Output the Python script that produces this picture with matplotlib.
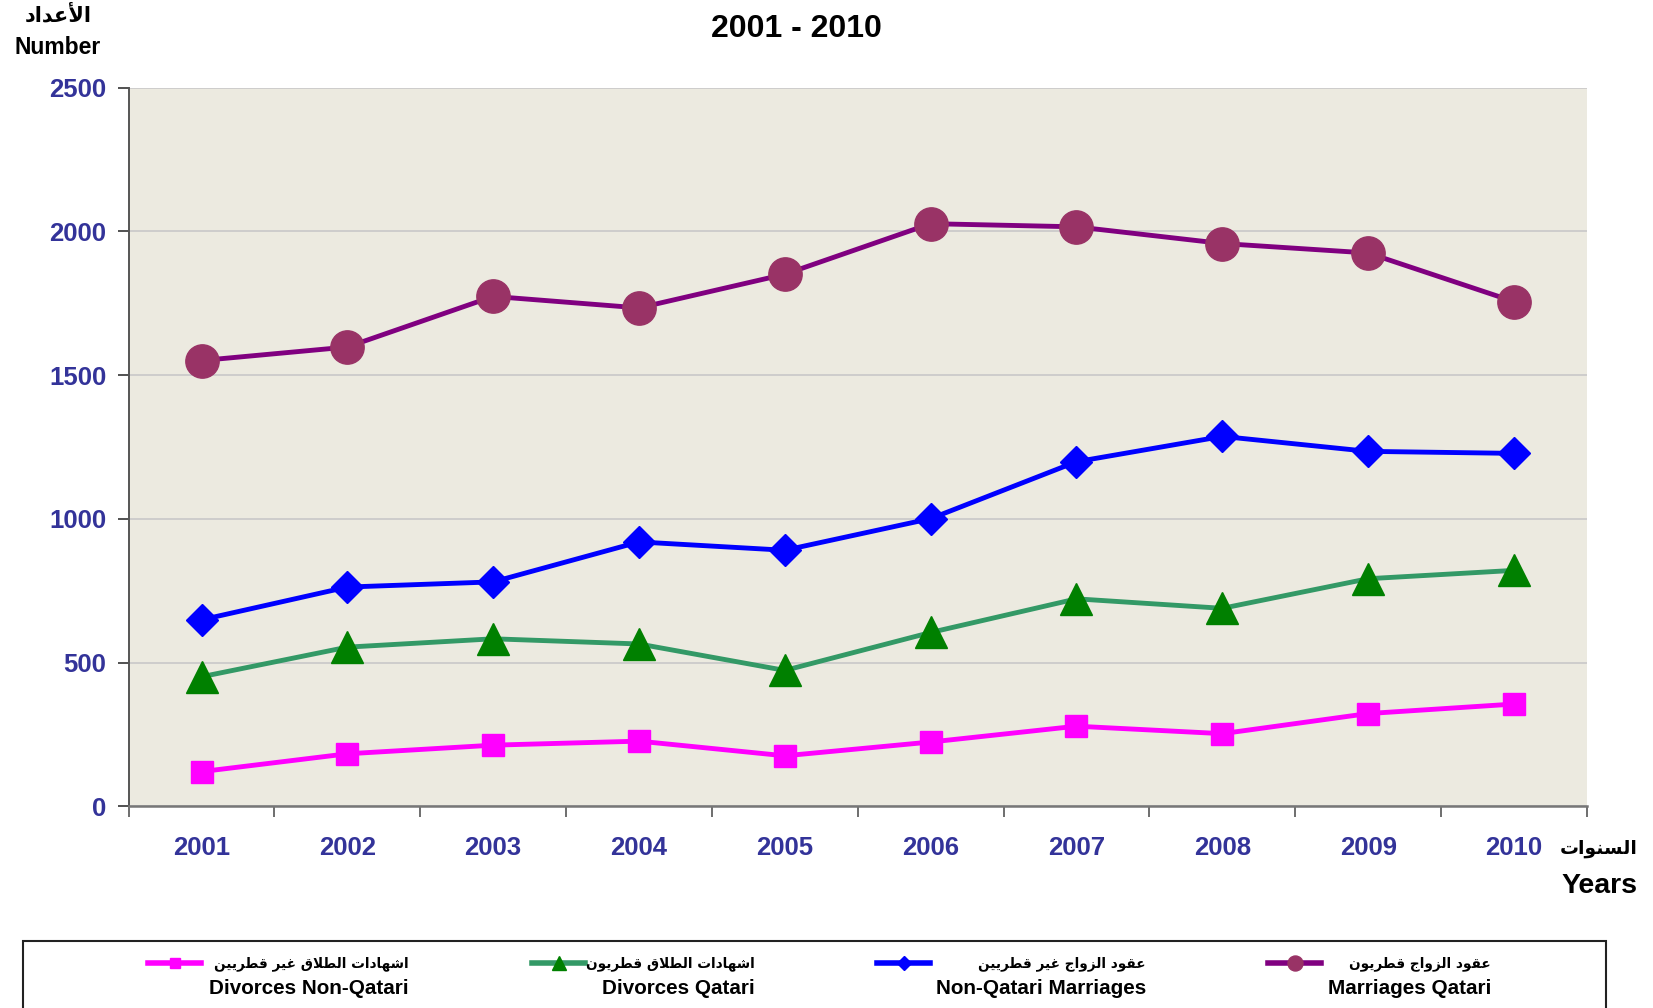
import numpy as np
import matplotlib
matplotlib.use('Agg')
import matplotlib.pyplot as plt
from matplotlib.lines import Line2D
from matplotlib.patches import Rectangle

years = ['2001', '2002', '2003', '2004', '2005', '2006', '2007', '2008', '2009', '2010']
marriages_qatari = [1551, 1598, 1774, 1734, 1851, 2027, 2016, 1958, 1925, 1756]
marriages_non_qatari = [649, 763, 781, 920, 891, 1001, 1199, 1287, 1235, 1228]
divorces_qatari = [451, 554, 583, 565, 473, 605, 722, 689, 792, 821]
divorces_non_qatari = [121, 183, 213, 227, 176, 224, 279, 253, 323, 356]

labels_en = ['Divorces Non-Qatari', 'Divorces Qatari', 'Non-Qatari Marriages', 'Marriages Qatari']
labels_ar = ['اشهادات الطلاق غير قطريين', 'اشهادات الطلاق قطريون',
             'عقود الزواج غير قطريين', 'عقود الزواج قطريون']

# arabic presentation forms: isolated, final, initial, medial (right-joining letters have 2)
FORMS = {
    'ا': '\uFE8D\uFE8E', 'أ': '\uFE83\uFE84', 'د': '\uFEA9\uFEAA', 'ر': '\uFEAD\uFEAE',
    'ز': '\uFEAF\uFEB0', 'و': '\uFEED\uFEEE',
    'ت': '\uFE95\uFE96\uFE97\uFE98', 'ج': '\uFE9D\uFE9E\uFE9F\uFEA0',
    'س': '\uFEB1\uFEB2\uFEB3\uFEB4', 'ش': '\uFEB5\uFEB6\uFEB7\uFEB8',
    'ط': '\uFEC1\uFEC2\uFEC3\uFEC4', 'ع': '\uFEC9\uFECA\uFECB\uFECC',
    'غ': '\uFECD\uFECE\uFECF\uFED0', 'ق': '\uFED5\uFED6\uFED7\uFED8',
    'ل': '\uFEDD\uFEDE\uFEDF\uFEE0', 'ن': '\uFEE5\uFEE6\uFEE7\uFEE8',
    'ه': '\uFEE9\uFEEA\uFEEB\uFEEC', 'ي': '\uFEF1\uFEF2\uFEF3\uFEF4',
    '\uFEFB': '\uFEFB\uFEFC', '\uFEF7': '\uFEF7\uFEF8',
}


def shape(text):
    text = text.replace('لا', '\uFEFB').replace('لأ', '\uFEF7')
    out = []
    for i, c in enumerate(text):
        forms = FORMS.get(c)
        if forms is None:
            out.append(c)
            continue
        prev = text[i - 1] if i > 0 else ''
        nxt = text[i + 1] if i + 1 < len(text) else ''
        jp = prev in FORMS and len(FORMS[prev]) == 4
        jn = len(forms) == 4 and nxt in FORMS
        if jp:
            out.append(forms[3] if jn else forms[1])
        else:
            out.append(forms[2] if jn else forms[0])
    return ''.join(reversed(out))


plt.rcParams['font.family'] = ['Liberation Sans', 'DejaVu Sans']
plt.rcParams['font.weight'] = 'bold'
arabic = ['DejaVu Sans']

fig = plt.figure(figsize=(16.53, 10.08), dpi=100)
ax = fig.add_axes([0.0778, 0.200, 0.8822, 0.713])
ax.set_facecolor('#ECEAE0')

x = np.arange(len(years))
series = [
    (divorces_non_qatari, '#FF00FF', '#FF00FF', 's', 16.5),
    (divorces_qatari, '#339966', '#008000', '^', 23.5),
    (marriages_non_qatari, '#0000FF', '#0000FF', 'D', 16.5),
    (marriages_qatari, '#800080', '#993366', 'o', 24),
]
for vals, lc, mc, mk, ms in series:
    ax.plot(x, vals, color=lc, lw=3.5, marker=mk, ms=ms, mfc=mc, mec=mc, zorder=3)

ax.set_xlim(-0.5, 9.5)
ax.set_ylim(0, 2500)
ax.set_yticks(range(0, 2501, 500))
ax.yaxis.grid(True, color='#C8C8C8', lw=1.2)
ax.set_axisbelow(True)
ax.set_xticks(np.arange(-0.5, 10, 1))
ax.set_xticklabels([])
ax.set_xticks(x, minor=True)
ax.set_xticklabels(years, minor=True)
ax.tick_params(axis='x', which='major', length=8, width=1.2, color='#555555', direction='out')
ax.tick_params(axis='x', which='minor', length=0, pad=21, labelsize=18.5, labelcolor='#333399')
ax.tick_params(axis='y', length=8, width=1.2, color='#333333', pad=8, labelsize=18.5, labelcolor='#333399')
for s in ['top', 'right']:
    ax.spines[s].set_visible(False)
ax.spines['left'].set_color('#555555')
ax.spines['left'].set_linewidth(1.4)
ax.spines['bottom'].set_color('#777777')
ax.spines['bottom'].set_linewidth(1.8)

W, H = 1653.0, 1008.0
fig.text(796 / W, 1 - 29 / H, '2001 - 2010', ha='center', va='center', fontsize=23, weight='bold')
fig.text(58 / W, 1 - 15 / H, shape('الأعداد'), ha='center', va='center', fontsize=15,
         weight='bold', family=arabic)
fig.text(58 / W, 1 - 48 / H, 'Number', ha='center', va='center', fontsize=16.5, weight='bold')
fig.text(1599 / W, 1 - 849 / H, shape('السنوات'), ha='center', va='center', fontsize=13.5,
         weight='bold', family=arabic)
fig.text(1599 / W, 1 - 886 / H, 'Years', ha='center', va='center', fontsize=20.5, weight='bold')

# legend box, cut by the bottom edge like the original
fig.add_artist(Rectangle((23 / W, -0.05), (1606 - 23) / W, 0.05 + 1 - 941 / H,
                         transform=fig.transFigure, fill=False, ec='#222222', lw=1.5, clip_on=False))
handle_x = [148, 532, 877, 1268]
text_right = [409, 755, 1146, 1491]
for i, (vals, lc, mc, mk, ms) in enumerate(series):
    hx = handle_x[i]
    fig.add_artist(Line2D([hx / W, (hx + 53) / W], [1 - 963 / H] * 2, transform=fig.transFigure,
                          color=lc, lw=4))
    fig.add_artist(Line2D([(hx + 26.5) / W], [1 - 963 / H], transform=fig.transFigure,
                          marker=mk, ms=ms * 0.45, mfc=mc, mec=mc, ls='none'))
    fig.text(text_right[i] / W, 1 - 964 / H, shape(labels_ar[i]), ha='right', va='center',
             fontsize=9.8, weight='bold', family=arabic)
    fig.text(text_right[i] / W, 1 - 989 / H, labels_en[i], ha='right', va='center',
             fontsize=14.9, weight='bold')

fig.savefig('out.png', dpi=100)
